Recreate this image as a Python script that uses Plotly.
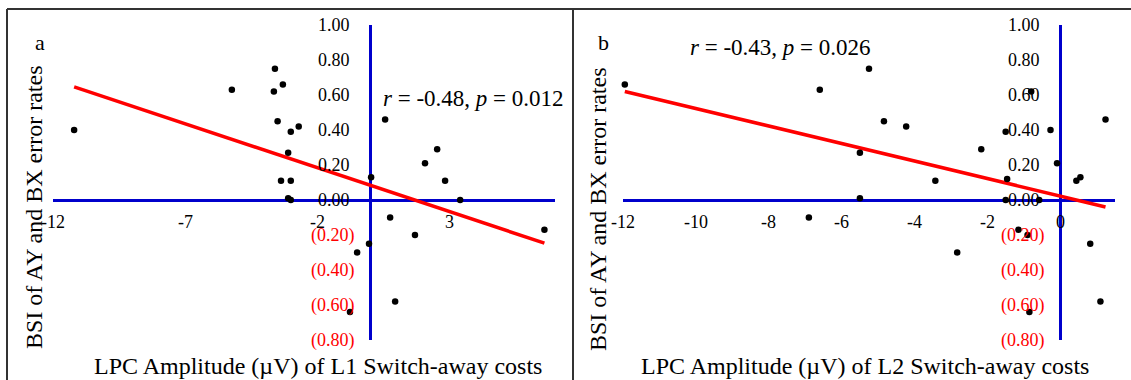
import numpy as np
import plotly.graph_objects as go

# ---- data ----
a_x = [-11.2, -5.23, -3.6, -3.64, -3.3, -3.5, -3.0, -2.7, -3.1, -3.37, -3.0, -3.1, -3.0,
       0.57, 0.04, 2.08, 2.54, 2.84, 3.41, 0.76, 1.7, -0.04, -0.49, 0.95, -0.76, 6.6]
a_y = [0.40, 0.63, 0.75, 0.62, 0.66, 0.45, 0.39, 0.42, 0.27, 0.11, 0.11, 0.01, 0.0,
       0.46, 0.13, 0.21, 0.29, 0.11, 0.0, -0.10, -0.20, -0.25, -0.30, -0.58, -0.64, -0.17]
b_x = [-11.95, -6.6, -5.25, -5.5, -5.5, -6.9, -4.84, -4.23, -3.43, -2.83, -2.17, -1.5, -1.46,
       -1.5, -1.15, -0.9, -0.8, -0.85, -0.58, -0.27, -0.09, 0.44, 0.55, 0.82, 1.1, 1.24]
b_y = [0.66, 0.63, 0.75, 0.27, 0.01, -0.10, 0.45, 0.42, 0.11, -0.30, 0.29, 0.39, 0.12,
       0.0, -0.17, -0.20, 0.62, -0.64, 0.0, 0.40, 0.21, 0.11, 0.13, -0.25, -0.58, 0.46]

y_ticks = [1.0, 0.8, 0.6, 0.4, 0.2, 0.0, -0.2, -0.4, -0.6, -0.8]
a_xticks = [-12, -7, -2, 3]
b_xticks = [-12, -10, -8, -6, -4, -2, 0]
a_range = [-12, 7]
b_range = [-12, 1.5]
y_range = [-0.8, 1.0]

stat_a = "<i>r</i> = -0.48, <i>p</i> = 0.012"
stat_b = "<i>r</i> = -0.43, <i>p</i> = 0.026"
x_title_a = "LPC Amplitude (µV) of L1 Switch-away costs"
x_title_b = "LPC Amplitude (µV) of L2 Switch-away costs"
y_title = "BSI of AY and BX error rates"

W, H = 1131, 380
FONT = "Liberation Serif"
BLUE = "#0000CC"
RED = "#FF0000"

fig = go.Figure()

panels = [
    dict(x=a_x, y=a_y, xr=a_range, xt=a_xticks, xa="x", ya="y"),
    dict(x=b_x, y=b_y, xr=b_range, xt=b_xticks, xa="x2", ya="y2"),
]

for p in panels:
    xs = np.array(p["x"]); ys = np.array(p["y"])
    m, c = np.polyfit(xs, ys, 1)
    lx = np.array([xs.min(), xs.max()])
    fig.add_trace(go.Scatter(x=lx, y=m * lx + c, mode="lines",
                             line=dict(color=RED, width=3.5),
                             xaxis=p["xa"], yaxis=p["ya"], showlegend=False, hoverinfo="skip"))
    fig.add_trace(go.Scatter(x=p["x"], y=p["y"], mode="markers",
                             marker=dict(color="black", size=6.5),
                             xaxis=p["xa"], yaxis=p["ya"], showlegend=False, cliponaxis=False))

def fmt(v):
    if v < 0:
        return f"({abs(v):.2f})"
    return f"{v:.2f}"

annotations = []
for p in panels:
    for v in y_ticks:
        annotations.append(dict(x=0, y=v, xref=p["xa"], yref=p["ya"], text=fmt(v),
                                showarrow=False, xanchor="right", yanchor="middle",
                                xshift=-18 if v >= 0 else -13,
                                font=dict(family=FONT, size=18, color=RED if v < 0 else "black")))
    for v in p["xt"]:
        annotations.append(dict(x=v, y=0, xref=p["xa"], yref=p["ya"], text=str(v),
                                showarrow=False, xanchor="center", yanchor="middle",
                                yshift=-22, font=dict(family=FONT, size=18, color="black")))

def px2x(px):
    return px / W

def px2y(py):
    return 1 - py / H

annotations += [
    dict(x=px2x(473), y=px2y(98), xref="paper", yref="paper", text=stat_a, showarrow=False,
         xanchor="center", yanchor="middle", font=dict(family=FONT, size=23, color="black")),
    dict(x=px2x(780), y=px2y(48), xref="paper", yref="paper", text=stat_b, showarrow=False,
         xanchor="center", yanchor="middle", font=dict(family=FONT, size=23, color="black")),
    dict(x=px2x(40), y=px2y(42), xref="paper", yref="paper", text="a", showarrow=False,
         xanchor="center", yanchor="middle", font=dict(family=FONT, size=22, color="black")),
    dict(x=px2x(603), y=px2y(42), xref="paper", yref="paper", text="b", showarrow=False,
         xanchor="center", yanchor="middle", font=dict(family=FONT, size=22, color="black")),
    dict(x=px2x(318), y=px2y(366), xref="paper", yref="paper", text=x_title_a, showarrow=False,
         xanchor="center", yanchor="middle", font=dict(family=FONT, size=24, color="black")),
    dict(x=px2x(865), y=px2y(366), xref="paper", yref="paper", text=x_title_b, showarrow=False,
         xanchor="center", yanchor="middle", font=dict(family=FONT, size=24, color="black")),
    dict(x=px2x(34), y=px2y(207), xref="paper", yref="paper", text=y_title, showarrow=False,
         textangle=-90, xanchor="center", yanchor="middle", font=dict(family=FONT, size=24, color="black")),
    dict(x=px2x(598), y=px2y(209), xref="paper", yref="paper", text=y_title, showarrow=False,
         textangle=-90, xanchor="center", yanchor="middle", font=dict(family=FONT, size=24, color="black")),
]

shapes = [
    dict(type="line", xref="paper", yref="paper", x0=px2x(7), x1=1, y0=px2y(9), y1=px2y(9),
         line=dict(color="#333333", width=2)),
    dict(type="line", xref="paper", yref="paper", x0=px2x(7), x1=px2x(7), y0=px2y(9), y1=0,
         line=dict(color="#333333", width=2)),
    dict(type="line", xref="paper", yref="paper", x0=px2x(573), x1=px2x(573), y0=px2y(9), y1=0,
         line=dict(color="#333333", width=2)),
]

axis_common = dict(showgrid=False, showticklabels=False, ticks="", showline=False,
                   zeroline=True, zerolinecolor=BLUE, zerolinewidth=2.5, fixedrange=True)

ydom = [px2y(340), px2y(25)]
fig.update_layout(
    width=W, height=H,
    margin=dict(l=0, r=0, t=0, b=0),
    paper_bgcolor="white", plot_bgcolor="white",
    xaxis=dict(domain=[px2x(53), px2x(555)], range=a_range, anchor="y", **axis_common),
    yaxis=dict(domain=ydom, range=y_range, anchor="x", **axis_common),
    xaxis2=dict(domain=[px2x(623), px2x(1115)], range=b_range, anchor="y2", **axis_common),
    yaxis2=dict(domain=ydom, range=y_range, anchor="x2", **axis_common),
    annotations=annotations,
    shapes=shapes,
    showlegend=False,
)

fig.write_html("out.html")
